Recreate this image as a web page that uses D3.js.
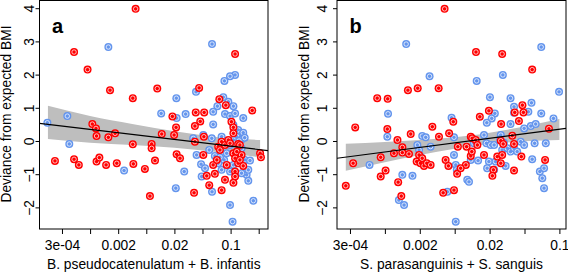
<!DOCTYPE html>
<html>
<head>
<meta charset="utf-8">
<script src="https://cdn.jsdelivr.net/npm/d3@7"></script>
<style>
  body { margin: 0; background: #fff; }
  svg { display: block; font-family: "Liberation Sans", Arial, Helvetica, sans-serif; }
</style>
</head>
<body>
<div id="chart"></div>
<script>
// x values are natural log of relative abundance, y = deviance from expected BMI
const yTicks = [-2, -1, 0, 1, 2, 3, 4];
const xTicksA = [-8, -7, -6, -5, -4, -3, -2, -1];
const xTicksB = [-8, -7, -6, -5, -4, -3, -2];
const xTickLabels = ["3e-04", "", "0.002", "", "0.02", "", "0.1", ""];

const redA = [
  [-5.38,3.98],[-7.57,2.68],[-7.09,2.15],[-6.29,1.53],[-5.48,1.29],[-4.61,1.58],[-3.12,1.60],[-1.84,2.62],
  [-1.23,0.92],[-2.40,1.26],[-2.17,1.08],[-3.24,0.86],[-2.94,0.86],[-4.07,0.74],[-3.08,0.59],[-3.27,0.45],
  [-3.94,0.41],[-1.97,0.58],[-1.90,0.41],[-6.92,0.51],[-6.79,0.38],[-6.77,0.15],[-6.11,0.23],[-6.35,0.11],
  [-4.45,0.21],[-4.01,0.18],
  [-8.25,-0.60],[-7.57,-0.55],[-7.40,-0.72],[-6.77,-0.62],[-6.67,-0.50],[-6.43,-0.72],[-6.05,-0.67],
  [-5.48,-0.10],[-5.46,-0.69],[-5.05,-0.84],[-4.81,-0.09],[-4.81,-0.22],[-4.69,-0.59],[-4.87,-1.66],
  [-3.92,-0.40],[-3.80,-0.52],[-3.30,-1.56],[-3.27,-0.02],[-2.97,-0.42],[-2.95,0.13],[-2.85,-1.05],
  [-2.76,-1.33],[-2.62,-0.72],[-2.49,-0.57],[-2.44,-0.17],[-2.32,-0.02],[-2.32,-1.48],[-2.56,-0.99],
  [-2.38,-0.27],[-2.20,-0.12],[-2.08,0.03],[-2.02,-0.07],[-2.14,-0.72],[-1.90,0.23],[-1.90,-0.37],
  [-1.84,-0.52],[-1.78,-0.32],[-1.73,-0.67],[-1.84,-0.92],[-1.84,-1.07],[-1.90,-1.26],[-1.73,-0.09],
  [-1.67,-0.12],[-1.61,-0.42],[-1.67,-0.57],[-1.55,-0.75],[-0.95,-0.37],[-0.92,-0.49],[-2.20,-1.17]
];
const blueA = [
  [-8.52,0.55],[-7.81,0.75],[-6.35,2.83],[-2.66,2.92],[-1.84,1.99],[-2.02,1.95],[-2.22,1.81],[-3.23,1.48],
  [-3.93,1.29],[-4.47,0.83],[-3.60,0.81],[-3.92,0.69],[-2.62,0.50],[-2.26,1.32],[-2.08,1.18],[-2.47,1.05],
  [-2.62,0.88],[-1.90,1.05],[-2.20,0.81],[-2.02,0.75],[-1.84,0.83],[-1.55,0.69],[-1.90,0.48],[-1.73,0.33],
  [-1.67,0.23],[-1.78,0.13],[-3.33,0.08],[-2.97,0.18],[-2.32,0.13],
  [-7.74,-0.09],[-5.79,-0.89],[-3.95,-1.42],[-3.65,-0.92],[-3.21,-0.42],[-3.05,-0.70],[-2.91,-0.82],
  [-2.76,-0.27],[-2.67,0.08],[-2.66,-1.53],[-2.56,-0.45],[-2.44,-0.67],[-2.32,-0.87],[-2.23,-0.57],
  [-2.14,-0.37],[-2.02,-1.93],[-1.93,-2.43],[-2.02,-0.92],[-1.90,0.03],[-1.61,-0.22],[-1.49,-0.57],
  [-1.43,-1.02],[-1.37,-1.20],[-1.37,-0.87],[-1.31,-0.59],[-1.19,-1.80],[-2.02,-0.12],[-1.73,-0.37],
  [-1.61,-0.97],[-2.38,-0.49],[-1.90,-0.72],[-3.03,-1.07],[-1.60,0.05],[-1.55,0.25],[-1.50,0.10],[-1.70,0.00]
];

const redB = [
  [-5.29,3.98],[-4.39,2.68],[-3.64,2.62],[-2.78,2.15],[-6.34,1.53],[-6.06,1.59],[-5.46,1.59],[-7.22,1.29],
  [-6.92,1.27],[-7.85,0.41],[-6.93,0.36],[-6.26,0.21],[-5.64,0.43],[-5.45,0.13],[-5.04,0.58],[-5.16,0.23],
  [-6.64,0.03],[-4.28,0.73],[-4.02,0.91],[-3.67,0.51],[-3.35,0.16],[-4.54,0.13],[-3.06,1.08],[-3.28,0.86],
  [-3.03,0.86],[-3.16,0.60],[-2.30,0.37],
  [-8.12,-1.35],[-7.91,-0.67],[-7.12,-0.49],[-7.12,-1.07],[-6.98,-0.89],[-6.74,-0.37],[-6.50,-0.19],
  [-6.50,-0.35],[-6.31,-0.39],[-6.62,-1.24],[-6.53,-1.66],[-6.09,-0.62],[-6.02,-0.42],[-5.98,-0.67],
  [-5.93,-0.52],[-5.88,-0.75],[-5.80,-0.67],[-5.69,-0.72],[-5.26,-0.57],[-5.18,-0.75],[-5.33,-1.56],
  [-5.02,-1.48],[-4.93,-0.99],[-4.91,-0.17],[-4.66,-0.17],[-4.68,-0.72],[-4.54,-0.45],[-4.51,-0.32],
  [-4.50,0.08],[-4.40,0.03],[-4.35,-0.12],[-4.16,-0.42],[-3.89,-0.87],[-3.78,-0.47],[-3.68,-0.67],
  [-3.64,-0.42],[-3.68,0.01],[-3.61,-0.09],[-3.30,-0.09],[-3.30,-0.89],[-3.09,-0.47],[-2.41,-0.57],
  [-3.92,-1.05],[-4.83,-0.82]
];
const blueB = [
  [-6.39,2.92],[-5.72,1.95],[-4.37,1.81],[-3.62,1.99],[-2.52,2.83],[-2.01,1.48],[-3.99,1.32],[-3.40,1.29],
  [-3.30,1.03],[-3.30,0.85],[-2.80,1.15],[-2.89,0.88],[-2.52,0.83],[-2.17,0.68],[-3.85,0.83],[-3.94,0.68],
  [-4.08,0.55],[-5.09,0.70],[-6.91,0.82],[-3.40,0.51],[-3.01,0.38],[-2.82,0.45],[-2.68,0.51],[-6.93,0.13],
  [-5.93,0.15],[-5.83,0.11],[-5.02,0.11],[-3.68,0.18],
  [-7.44,-0.72],[-6.50,-1.02],[-6.60,-1.78],[-6.45,-1.93],[-6.21,-1.05],[-6.07,-0.12],[-5.98,-0.47],
  [-5.69,-0.17],[-5.21,-1.53],[-5.02,-0.42],[-4.97,-0.72],[-4.94,-0.87],[-4.97,-2.43],[-4.64,-1.17],
  [-4.59,-1.23],[-4.54,-0.57],[-4.45,-0.07],[-4.33,-0.59],[-4.16,0.18],[-4.09,-0.07],[-4.02,-0.62],
  [-4.07,-0.82],[-3.97,-0.12],[-3.87,-0.12],[-3.83,-0.62],[-3.70,0.05],[-3.64,-0.27],[-3.59,-0.05],
  [-3.54,-0.75],[-3.49,-0.22],[-3.40,-0.32],[-3.30,-0.22],[-3.21,-0.32],[-3.11,-0.02],[-3.01,-0.12],
  [-2.78,-0.55],[-2.71,-0.07],[-2.56,-0.92],[-2.44,-0.82],[-2.49,-1.12],[-2.44,-1.42],[-2.39,-0.07],
  [-3.87,-0.87],[-6.02,-0.27]
];

// linear fits and 95% bands
const fitA = { intercept: -0.357, slope: -0.1008 };
const fitB = { intercept: 0.629, slope: 0.1372 };
const bandA = [[-8.5,0.06,1.06],[-7,-0.05,0.75],[-5.5,-0.12,0.51],[-4,-0.20,0.29],[-2.5,-0.33,0.12],[-0.95,-0.49,0.03]];
const bandB = [[-8.12,-0.90,-0.08],[-7,-0.64,-0.03],[-6,-0.42,0.03],[-5,-0.23,0.11],[-4.5,-0.15,0.17],
               [-4,-0.09,0.25],[-3,-0.01,0.44],[-2,0.03,0.66]];

const W = 568, H = 273;
const svg = d3.select("#chart").append("svg").attr("width", W).attr("height", H);

function drawPanel(cfg) {
  const x = d3.scaleLinear().domain(cfg.xDomain).range([cfg.left, cfg.right]);
  const y = d3.scaleLinear().domain([-2.651, 4.232]).range([229, 0.5]);

  const clipId = "clip-" + cfg.id;
  svg.append("clipPath").attr("id", clipId)
    .append("rect")
    .attr("x", cfg.left).attr("y", 0.5)
    .attr("width", cfg.right - cfg.left).attr("height", 228.5);

  const g = svg.append("g").attr("clip-path", `url(#${clipId})`);

  // confidence band
  const area = d3.area()
    .x(d => x(d[0]))
    .y0(d => y(d[1]))
    .y1(d => y(d[2]))
    .curve(d3.curveMonotoneX);
  g.append("path").datum(cfg.band).attr("fill", "#bebebe").attr("d", area);

  // points
  function drawPoints(data, color) {
    const p = g.append("g").selectAll("g").data(data).enter().append("g")
      .attr("transform", d => `translate(${x(d[0])},${y(d[1])})`);
    p.append("circle").attr("r", 4).attr("fill", color);
    p.append("circle").attr("r", 2.2).attr("fill", "none")
      .attr("stroke", "#fff").attr("stroke-opacity", 0.8).attr("stroke-width", 0.9);
  }
  drawPoints(cfg.blue, "#6495ed");
  drawPoints(cfg.red, "#ff0000");

  // fit line
  const xd = x.domain();
  g.append("path")
    .datum(xd.map(t => [t, cfg.fit.intercept + cfg.fit.slope * t]))
    .attr("fill", "none").attr("stroke", "#000").attr("stroke-width", 1.1)
    .attr("d", d3.line().x(d => x(d[0])).y(d => y(d[1])));

  // box
  svg.append("rect")
    .attr("x", cfg.left).attr("y", 0.5)
    .attr("width", cfg.right - cfg.left).attr("height", 228.5)
    .attr("fill", "none").attr("stroke", "#000").attr("stroke-width", 1);

  // x axis
  const xa = svg.append("g").attr("transform", "translate(0,229)")
    .call(d3.axisBottom(x).tickValues(cfg.xTicks).tickSize(5).tickSizeOuter(0)
      .tickFormat((d, i) => xTickLabels[i]));
  xa.select(".domain").remove();
  xa.selectAll("text").attr("y", 20.5).attr("dy", null)
    .style("font-size", "13.8px").attr("fill", "#000");

  // y axis
  const ya = svg.append("g").attr("transform", `translate(${cfg.left},0)`)
    .call(d3.axisLeft(y).tickValues(yTicks).tickSize(4).tickSizeOuter(0)
      .tickFormat(d => d < 0 ? "\u2212" + Math.abs(d) : d));
  ya.select(".domain").remove();
  ya.selectAll("text")
    .attr("x", null).attr("dy", null)
    .attr("transform", `translate(${-cfg.yLabOff},0) rotate(-90)`)
    .attr("text-anchor", "middle")
    .style("font-size", "13.8px").attr("fill", "#000");

  // titles
  svg.append("text")
    .attr("x", (cfg.left + cfg.right) / 2).attr("y", 269)
    .attr("text-anchor", "middle").style("font-size", "13.8px")
    .text(cfg.xTitle);

  svg.append("text")
    .attr("transform", `translate(${cfg.yTitleX},114) rotate(-90)`)
    .attr("text-anchor", "middle").style("font-size", "13.8px")
    .text("Deviance from expected BMI");

  svg.append("text")
    .attr("x", cfg.left + 12.5).attr("y", 33)
    .style("font-size", "20px").style("font-weight", "bold")
    .text(cfg.id);
}

drawPanel({
  id: "a", left: 39.5, right: 268, xDomain: [-8.8, -0.669], xTicks: xTicksA,
  red: redA, blue: blueA, fit: fitA, band: bandA,
  xTitle: "B. pseudocatenulatum + B. infantis", yLabOff: 6, yTitleX: 10.5
});
drawPanel({
  id: "b", left: 337, right: 566, xDomain: [-8.372, -1.811], xTicks: xTicksB,
  red: redB, blue: blueB, fit: fitB, band: bandB,
  xTitle: "S. parasanguinis + S. sanguis", yLabOff: 10, yTitleX: 308.5
});
</script>
</body>
</html>
